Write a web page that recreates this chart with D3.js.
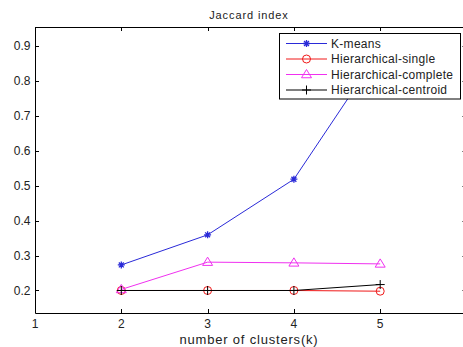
<!DOCTYPE html>
<html>
<head>
<meta charset="utf-8">
<script src="https://cdn.jsdelivr.net/npm/d3@7"></script>
<style>
  body { margin: 0; background: #fff; }
  svg { display: block; font-family: "Liberation Sans", Arial, sans-serif; }
</style>
</head>
<body>
<svg id="chart" width="463" height="347"></svg>
<script>
// data
const clusters = [2, 3, 4, 5];
const kmeans = [0.273, 0.359, 0.518, 0.886];
const single = [0.200, 0.200, 0.200, 0.198];
const complete = [0.203, 0.281, 0.279, 0.276];
const centroid = [0.200, 0.200, 0.200, 0.217];
const xTicks = [1, 2, 3, 4, 5, 6];
const yTicks = [0.2, 0.3, 0.4, 0.5, 0.6, 0.7, 0.8, 0.9];

const series = [
  { name: "K-means", values: kmeans, color: "#2a2ad8", marker: "star" },
  { name: "Hierarchical-single", values: single, color: "#f01818", marker: "circle" },
  { name: "Hierarchical-complete", values: complete, color: "#f030f0", marker: "triangle" },
  { name: "Hierarchical-centroid", values: centroid, color: "#000000", marker: "plus" }
];

const mLeft = 35, mTop = 27, mBottom = 313, mRight = 466.5;
const svg = d3.select("#chart");

const x = d3.scaleLinear().domain([1, 6]).range([mLeft, mRight]);
const y = d3.scaleLinear().domain([0.1357, 0.953]).range([mBottom, mTop]);

// axes box
svg.append("path")
  .attr("d", `M${mRight},${mTop + 0.5}H${mLeft + 0.5}V${mBottom + 0.5}H${mRight}`)
  .attr("fill", "none").attr("stroke", "#000").attr("stroke-width", 1);

// ticks (inward, on all four sides)
const tl = 4;
xTicks.forEach(t => {
  const px = Math.round(x(t)) + 0.5;
  svg.append("line").attr("x1", px).attr("x2", px).attr("y1", mBottom).attr("y2", mBottom - tl).attr("stroke", "#000");
  svg.append("line").attr("x1", px).attr("x2", px).attr("y1", mTop).attr("y2", mTop + tl).attr("stroke", "#000");
});
yTicks.forEach(t => {
  const py = Math.round(y(t)) + 0.5;
  svg.append("line").attr("x1", mLeft).attr("x2", mLeft + tl).attr("y1", py).attr("y2", py).attr("stroke", "#000");
  svg.append("line").attr("x1", mRight - tl).attr("x2", mRight).attr("y1", py).attr("y2", py).attr("stroke", "#000");
});

// tick labels
svg.selectAll(".ylab").data(yTicks).enter().append("text")
  .attr("x", 30.5).attr("y", d => y(d) + 4.3)
  .attr("text-anchor", "end").attr("font-size", 12).attr("fill", "#222")
  .text(d => d3.format(".1f")(d));
svg.selectAll(".xlab").data(xTicks.filter(t => t < 6)).enter().append("text")
  .attr("x", d => x(d)).attr("y", 328)
  .attr("text-anchor", "middle").attr("font-size", 12).attr("fill", "#222")
  .text(d => d);

// title and x label
svg.append("text").attr("x", 249).attr("y", 19).attr("text-anchor", "middle")
  .attr("font-size", 11).attr("letter-spacing", 0.9).attr("fill", "#222").text("Jaccard index");
svg.append("text").attr("x", 249).attr("y", 344).attr("text-anchor", "middle")
  .attr("font-size", 13).attr("letter-spacing", 0.8).attr("fill", "#222").text("number of clusters(k)");

function drawMarker(g, type, cx, cy, color) {
  if (type === "star") {
    const r = 3.5;
    let d = `M${cx - r},${cy}H${cx + r}M${cx},${cy - r}V${cy + r}`;
    d += `M${cx - r * 0.7},${cy - r * 0.7}L${cx + r * 0.7},${cy + r * 0.7}M${cx - r * 0.7},${cy + r * 0.7}L${cx + r * 0.7},${cy - r * 0.7}`;
    g.append("path").attr("d", d).attr("stroke", color).attr("stroke-width", 1.3).attr("fill", "none");
  } else if (type === "circle") {
    g.append("circle").attr("cx", cx).attr("cy", cy).attr("r", 4).attr("fill", "none").attr("stroke", color).attr("stroke-width", 1);
  } else if (type === "triangle") {
    const s = 5;
    g.append("path").attr("d", `M${cx},${cy - s}L${cx + s},${cy + s * 0.65}L${cx - s},${cy + s * 0.65}Z`)
      .attr("fill", "none").attr("stroke", color).attr("stroke-width", 1);
  } else if (type === "plus") {
    const r = 4.5;
    g.append("path").attr("d", `M${cx - r},${cy}H${cx + r}M${cx},${cy - r}V${cy + r}`)
      .attr("stroke", color).attr("stroke-width", 1).attr("fill", "none");
  }
}

// series
const line = d3.line().x((d, i) => x(clusters[i])).y(d => y(d));
series.forEach(s => {
  const g = svg.append("g");
  g.append("path").datum(s.values).attr("d", line)
    .attr("fill", "none").attr("stroke", s.color).attr("stroke-width", 1);
  s.values.forEach((v, i) => drawMarker(g, s.marker, x(clusters[i]), y(v), s.color));
});

// legend
const lg = svg.append("g");
lg.append("rect").attr("x", 279.5).attr("y", 33.5).attr("width", 181).attr("height", 65.5)
  .attr("fill", "#fff").attr("stroke", "#000").attr("stroke-width", 1);
series.forEach((s, i) => {
  const ly = 43.5 + i * 15.5;
  lg.append("line").attr("x1", 286).attr("x2", 327).attr("y1", ly).attr("y2", ly)
    .attr("stroke", s.color).attr("stroke-width", 1);
  drawMarker(lg, s.marker, 306.5, ly, s.color);
  lg.append("text").attr("x", 331).attr("y", ly + 4.3).attr("font-size", 12)
    .attr("letter-spacing", 0.3).attr("fill", "#222").text(s.name);
});
</script>
</body>
</html>
